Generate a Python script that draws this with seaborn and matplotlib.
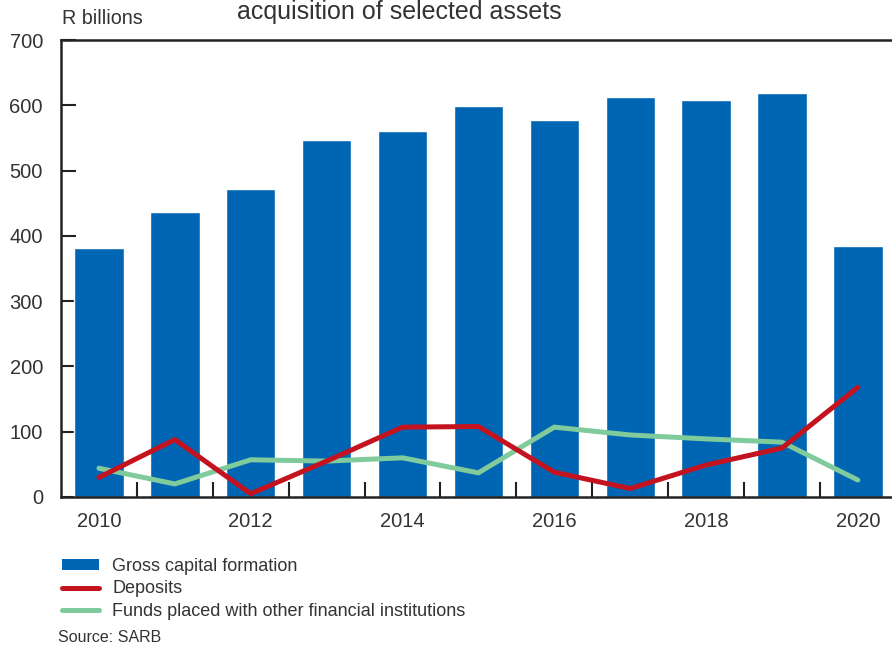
import matplotlib
matplotlib.use("Agg")
import matplotlib.pyplot as plt
import seaborn as sns
import pandas as pd
from matplotlib.patches import Patch
from matplotlib.lines import Line2D
from matplotlib.ticker import MultipleLocator, FixedLocator

years = [2010, 2011, 2012, 2013, 2014, 2015, 2016, 2017, 2018, 2019, 2020]
gross_capital_formation = [381, 436, 472, 547, 561, 599, 577, 613, 608, 619, 384]
deposits = [30, 88, 5, 55, 107, 108, 38, 13, 49, 75, 168]
funds_placed = [44, 20, 57, 55, 60, 37, 107, 95, 89, 84, 26]
xtick_labels = ["2010", "2012", "2014", "2016", "2018", "2020"]

BLUE = "#0066B3"
RED = "#C4121F"
GREEN = "#7FCB9B"
TXT = "#333333"

sns.set_theme(style="white")
plt.rcParams["font.family"] = ["Liberation Sans", "DejaVu Sans"]

df = pd.DataFrame({"year": years, "gcf": gross_capital_formation,
                   "dep": deposits, "funds": funds_placed})

fig = plt.figure(figsize=(8.92, 6.51), dpi=100)
ax = fig.add_axes([61/892, 1-497/651, 1-61/892, (497-40)/651])

sns.barplot(data=df, x="year", y="gcf", native_scale=True, width=0.65,
            color=BLUE, saturation=1, ax=ax, zorder=1)
sns.lineplot(data=df, x="year", y="funds", color=GREEN, lw=3.6, ax=ax, zorder=3)
sns.lineplot(data=df, x="year", y="dep", color=RED, lw=3.6, ax=ax, zorder=4)

ax.set_xlim(2009.5, 2020.45)
ax.set_ylim(0, 700)
ax.set_xlabel("")
ax.set_ylabel("")
ax.yaxis.set_major_locator(MultipleLocator(100))
ax.xaxis.set_major_locator(FixedLocator([int(s) for s in xtick_labels]))
ax.set_xticklabels(xtick_labels)
ax.xaxis.set_minor_locator(FixedLocator([y + 0.5 for y in years[:-1]]))
ax.tick_params(axis="x", which="major", length=0, pad=11, labelsize=14.5, labelcolor=TXT)
ax.tick_params(axis="x", which="minor", direction="in", length=11, width=1.5, color="#222222", bottom=True)
ax.tick_params(axis="y", which="major", direction="in", length=11, width=1.5, color="#222222",
               left=True, labelsize=14.5, labelcolor=TXT, pad=13)
for s in ["left", "bottom", "top"]:
    ax.spines[s].set_color("#222222")
    ax.spines[s].set_linewidth(1.8)
ax.spines["right"].set_visible(False)
ax.spines["top"].set_zorder(5)

fig.text(62/892, 1-18/651, "R billions", fontsize=14.2, color=TXT, va="center", ha="left")
fig.text(399/892, 1.0, "acquisition of selected assets", fontsize=18, color=TXT,
         va="top", ha="center")

handles = [Patch(facecolor=BLUE, edgecolor="none"),
           Line2D([0], [0], color=RED, lw=3.6),
           Line2D([0], [0], color=GREEN, lw=3.6)]
labels = ["Gross capital formation", "Deposits", "Funds placed with other financial institutions"]
leg = fig.legend(handles, labels, loc="upper left", bbox_to_anchor=(62/892, 1-558/651),
                 frameon=False, fontsize=13, handlelength=2.05, handleheight=0.55,
                 handletextpad=0.72, labelspacing=0.3, borderaxespad=0, borderpad=0)
for t in leg.get_texts():
    t.set_color(TXT)

fig.text(58/892, 1-637/651, "Source: SARB", fontsize=11.5, color=TXT, va="center", ha="left")

fig.savefig("out.png", dpi=100)
